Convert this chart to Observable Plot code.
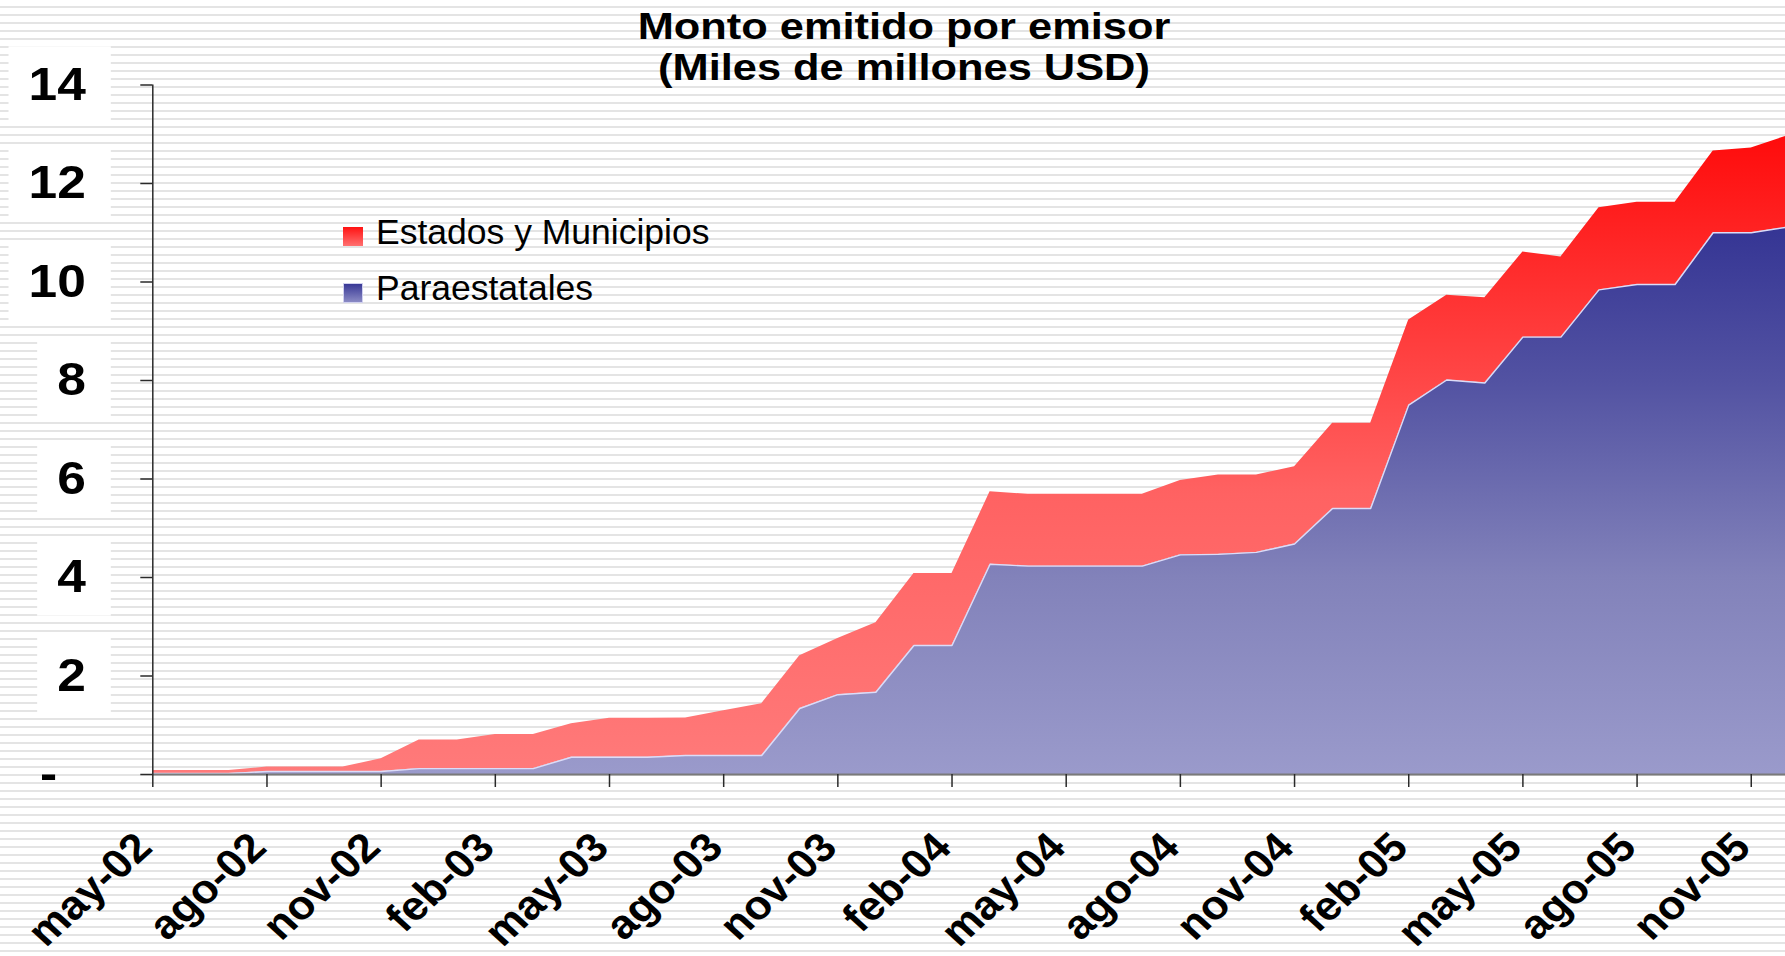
<!DOCTYPE html>
<html>
<head>
<meta charset="utf-8">
<script src="https://cdn.jsdelivr.net/npm/d3@7"></script>
<script src="https://cdn.jsdelivr.net/npm/@observablehq/plot@0.6"></script>
<style>
  html, body { margin: 0; padding: 0; }
  body {
    width: 1785px; height: 956px; overflow: hidden;
    background: repeating-linear-gradient(to bottom, #ffffff 0px, #ffffff 6px, #e4e4e4 6px, #e4e4e4 8px);
  }
  #wrap { position: relative; width: 1785px; height: 956px; }
  #chart { position: absolute; left: 0; top: 0; }
  #title {
    position: absolute; left: 0; top: 6px; width: 1808px; text-align: center;
    font: bold 36px/41px "Liberation Sans", Arial, sans-serif; color: #000; z-index: 2;
    transform: scaleX(1.205); transform-origin: 904px 0;
  }
  .sw { position: absolute; left: 343px; width: 20px; height: 19px; box-sizing: border-box; z-index: 2; }
  #swRed { top: 227px; background: linear-gradient(to bottom, #ff1212, #ff7070); }
  #swBlue { top: 283px; height: 20px; border: 1px solid #d0d0ee; background: linear-gradient(to bottom, #383896, #8a8ac4); }
  .lg { position: absolute; left: 376px; font: 35.5px/40px "Liberation Sans", Arial, sans-serif; color: #000; white-space: nowrap; z-index: 2; }
</style>
</head>
<body>
<div id="wrap">
  <div id="chart"></div>
  <div id="title">Monto emitido por emisor<br>(Miles de millones USD)</div>
  <div class="sw" id="swRed"></div>
  <div class="lg" id="lgRed" style="top:212px">Estados y Municipios</div>
  <div class="sw" id="swBlue"></div>
  <div class="lg" id="lgBlue" style="top:268px">Paraestatales</div>
</div>
<script>
// ---- data ----
const months = ["may-02","jun-02","jul-02","ago-02","sep-02","oct-02","nov-02","dic-02",
  "ene-03","feb-03","mar-03","abr-03","may-03","jun-03","jul-03","ago-03","sep-03","oct-03","nov-03","dic-03",
  "ene-04","feb-04","mar-04","abr-04","may-04","jun-04","jul-04","ago-04","sep-04","oct-04","nov-04","dic-04",
  "ene-05","feb-05","mar-05","abr-05","may-05","jun-05","jul-05","ago-05","sep-05","oct-05","nov-05","dic-05"];

const tickMonths = ["may-02","ago-02","nov-02","feb-03","may-03","ago-03","nov-03","feb-04",
  "may-04","ago-04","nov-04","feb-05","may-05","ago-05","nov-05"];

const yTicks = [0, 2, 4, 6, 8, 10, 12, 14];

const seriesNames = ["Paraestatales", "Estados y Municipios"];

const paraestatales = [0.02,0.02,0.02,0.06,0.06,0.06,0.06,0.12,0.12,0.12,0.12,0.35,0.35,0.35,0.385,0.385,0.385,
  1.34,1.62,1.67,2.62,2.62,4.27,4.23,4.23,4.23,4.23,4.46,4.47,4.51,4.68,5.40,5.40,
  7.50,8.01,7.95,8.88,8.88,9.84,9.95,9.95,11.00,11.00,11.12];

const estados = [0.06,0.06,0.06,0.09,0.09,0.09,0.26,0.58,0.58,0.69,0.69,0.68,0.79,0.79,0.76,0.91,1.05,
  1.07,1.14,1.41,1.46,1.46,1.47,1.46,1.46,1.46,1.46,1.51,1.61,1.57,1.57,1.73,1.73,
  1.73,1.72,1.73,1.73,1.63,1.67,1.67,1.67,1.66,1.72,1.86];

// ---- styles ----
const redStops = [[13, "#ff0b0b"], [5.7, "#ff6262"], [0, "#ff7a7a"]];
const blueStops = [[11.1, "#353594"], [8, "#5252a2"], [4, "#8282ba"], [0, "#9a9acb"]];
const yLabelStretch = 1.12;   // the reference's axis lettering is horizontally widened
const xLabelStretch = 1.1;

const rows = [];
paraestatales.forEach((v, i) => rows.push({i, serie: seriesNames[0], v}));
estados.forEach((v, i) => rows.push({i, serie: seriesNames[1], v}));
const paraRows = rows.filter(d => d.serie === seriesNames[0]);

const ns = "http://www.w3.org/2000/svg";
function gradients(index, scales) {
  const defs = document.createElementNS(ns, "defs");
  const make = (id, stops) => {
    const g = document.createElementNS(ns, "linearGradient");
    const y1 = scales.y(stops[0][0]), y2 = scales.y(stops[stops.length - 1][0]);
    g.setAttribute("id", id);
    g.setAttribute("gradientUnits", "userSpaceOnUse");
    g.setAttribute("x1", 0); g.setAttribute("x2", 0);
    g.setAttribute("y1", y1); g.setAttribute("y2", y2);
    stops.forEach(([v, c]) => {
      const s = document.createElementNS(ns, "stop");
      s.setAttribute("offset", (scales.y(v) - y1) / (y2 - y1));
      s.setAttribute("stop-color", c);
      g.appendChild(s);
    });
    defs.appendChild(g);
  };
  make("gRed", redStops);
  make("gBlue", blueStops);
  return defs;
}

const fontFamily = "Liberation Sans, Arial, sans-serif";

const svg = Plot.plot({
  width: 1785,
  height: 956,
  marginLeft: 152.3,
  marginRight: 0,
  marginTop: 84.5,
  marginBottom: 182,
  style: {background: "transparent", overflow: "hidden"},
  x: {type: "linear", domain: [0, 42.9]},
  y: {domain: [0, 14]},
  color: {domain: seriesNames, range: ["url(#gBlue)", "url(#gRed)"]},
  marks: [
    gradients,
    Plot.areaY(rows, Plot.stackY({x: "i", y: "v", z: "serie", fill: "serie", clip: true})),
    Plot.lineY(paraRows, {x: "i", y: "v", stroke: "#dcdcf8", strokeWidth: 1.4, clip: true}),
    Plot.ruleY([0], {stroke: "#7a7a7a", strokeWidth: 2}),
    Plot.ruleX([0], {y1: 0, y2: 14, stroke: "#2a2a2a", strokeWidth: 1.5}),
    Plot.axisY({
      ticks: yTicks, tickSize: 12, tickPadding: 55, label: null,
      tickFormat: d => d === 0 ? "-\u2007" : String(d),
      stroke: "#2a2a2a", strokeWidth: 1.5, fill: "#000",
      fontSize: 46, fontWeight: "bold", fontFamily
    }),
    Plot.axisX({
      ticks: tickMonths.map(m => months.indexOf(m)), tickSize: 13, label: null,
      tickFormat: () => "", stroke: "#2a2a2a", strokeWidth: 1.5
    }),
    Plot.text(tickMonths, {
      x: m => months.indexOf(m), text: m => m, frameAnchor: "bottom",
      rotate: -45, textAnchor: "end", lineAnchor: "middle", dx: -8.6, dy: 66,
      fill: "#000", fontSize: 40.5, fontWeight: "bold", fontFamily
    })
  ]
});

document.getElementById("chart").append(svg);

// widen the axis lettering like the reference
svg.querySelectorAll('g[aria-label="y-axis tick label"] text').forEach(t => {
  t.setAttribute("transform", `${t.getAttribute("transform") || ""} scale(${yLabelStretch},1)`);
});
svg.querySelectorAll('g[aria-label="text"] text').forEach(t => {
  const tr = t.getAttribute("transform") || "";
  t.setAttribute("transform", tr.replace("rotate(", `scale(${xLabelStretch},1) rotate(`));
});

// white boxes behind y tick labels
const svgRect = svg.getBoundingClientRect();
const boxLayer = document.createElementNS(ns, "g");
svg.insertBefore(boxLayer, svg.firstChild);
svg.querySelectorAll('g[aria-label="y-axis tick label"] text').forEach(t => {
  if (t.textContent.startsWith("-")) return;
  const r = t.getBoundingClientRect();
  const rect = document.createElementNS(ns, "rect");
  rect.setAttribute("x", r.left - svgRect.left - 20);
  rect.setAttribute("y", r.top - svgRect.top - 12);
  rect.setAttribute("width", r.width + 45);
  rect.setAttribute("height", r.height + 26);
  rect.setAttribute("fill", "#ffffff");
  boxLayer.appendChild(rect);
});
</script>
</body>
</html>
